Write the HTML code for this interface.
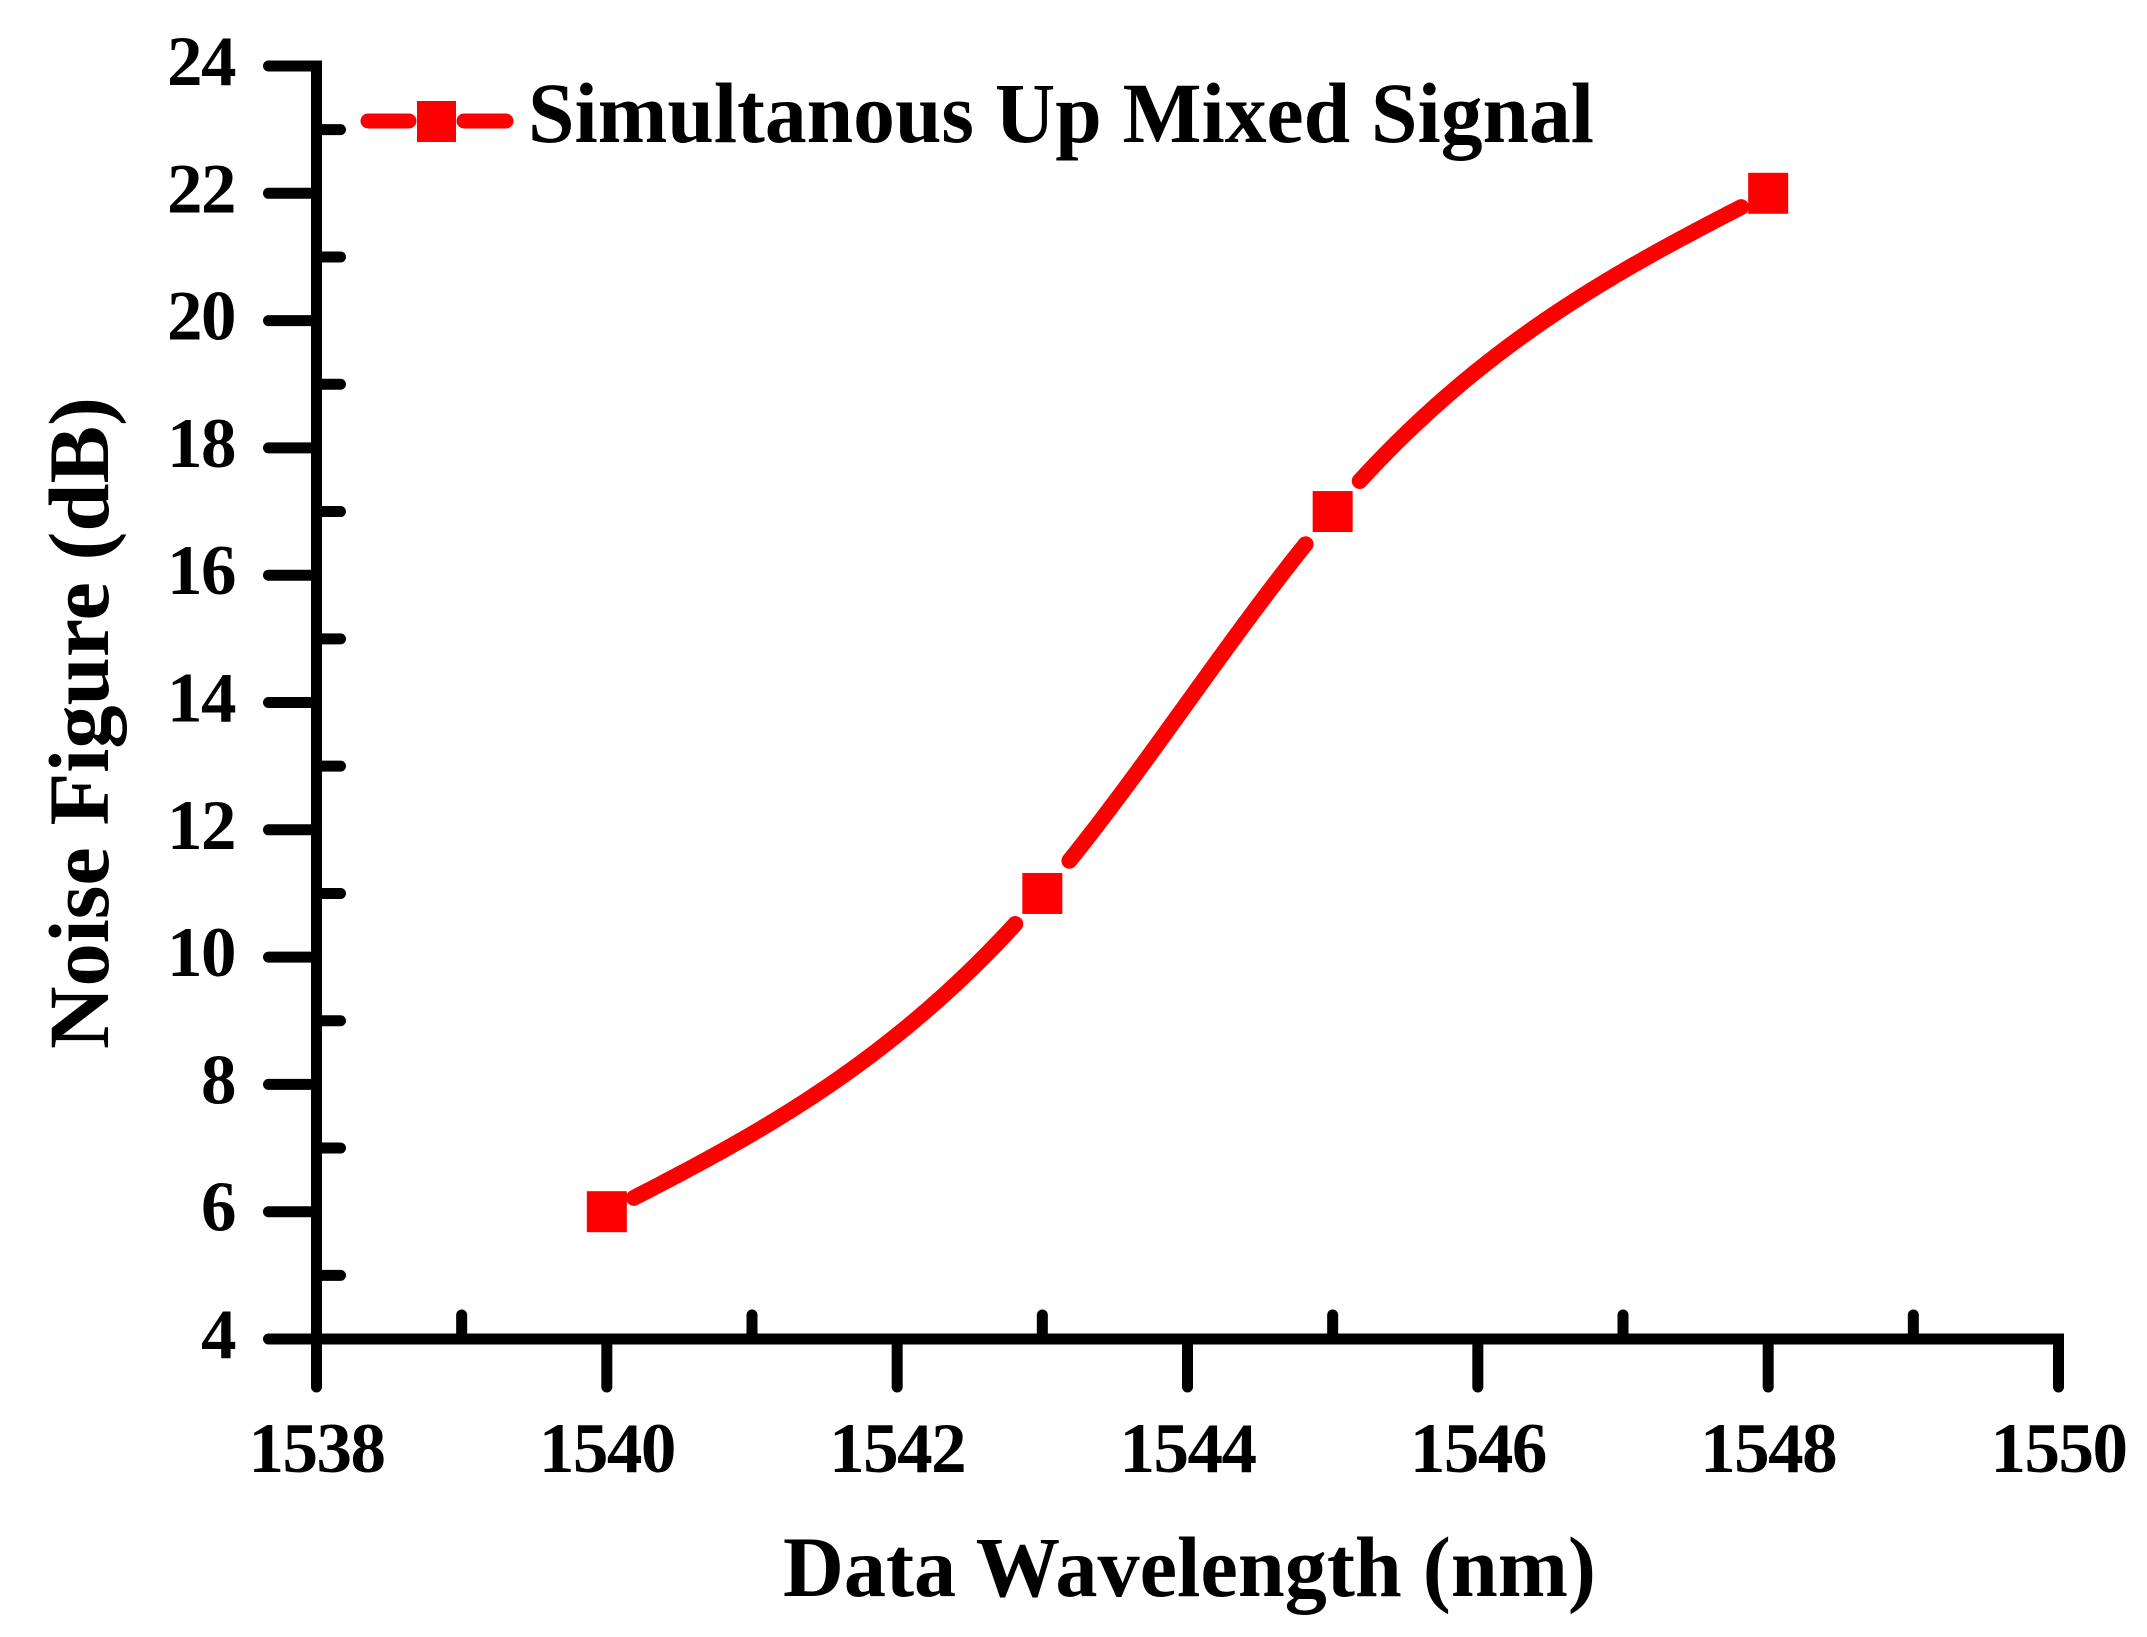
<!DOCTYPE html>
<html lang="en">
<head>
<meta charset="utf-8">
<title>Noise Figure vs Data Wavelength</title>
<style>
html,body{margin:0;padding:0;background:#fff;}
svg{display:block;}
text{font-family:"Liberation Serif","Times New Roman",serif;font-weight:bold;fill:#000;}
</style>
</head>
<body>
<svg id="chart" width="2147" height="1637" viewBox="0 0 2147 1637" xmlns="http://www.w3.org/2000/svg">
  <rect x="0" y="0" width="2147" height="1637" fill="#fff"/>
  <g id="axes"></g>
  <g id="series"></g>
  <g>
    <line x1="368" y1="121" x2="409" y2="121" stroke="#f00" stroke-width="15" stroke-linecap="round"/>
    <line x1="464" y1="121" x2="506" y2="121" stroke="#f00" stroke-width="15" stroke-linecap="round"/>
    <rect x="417" y="101" width="39" height="41" fill="#f00"/>
    <text x="528" y="142" font-size="86" textLength="1066" lengthAdjust="spacingAndGlyphs">Simultanous Up Mixed Signal</text>
  </g>
  <text x="783" y="1596" font-size="86" textLength="813" lengthAdjust="spacingAndGlyphs">Data Wavelength (nm)</text>
  <text transform="translate(108,1049) rotate(-90)" x="0" y="0" font-size="86" textLength="652" lengthAdjust="spacingAndGlyphs">Noise Figure (dB)</text>
</svg>
<script>
// Chart data
const wavelengths = [1540, 1543, 1545, 1548];
const noiseFigures = [6, 11, 17, 22];
const xTickLabels = [1538, 1540, 1542, 1544, 1546, 1548, 1550];
const yTickLabels = [4, 6, 8, 10, 12, 14, 16, 18, 20, 22, 24];

const SVG_NS = 'http://www.w3.org/2000/svg';
const axesGroup = document.getElementById('axes');
const seriesGroup = document.getElementById('series');

const xMin = 1538, xMax = 1550, yMin = 4, yMax = 24;
const plotLeft = 316.5, plotRight = 2058.5, plotTop = 66, plotBottom = 1339;

function xScale(v) { return plotLeft + (v - xMin) / (xMax - xMin) * (plotRight - plotLeft); }
function yScale(v) { return plotBottom - (v - yMin) / (yMax - yMin) * (plotBottom - plotTop); }

function make(tag, attrs) {
  const el = document.createElementNS(SVG_NS, tag);
  for (const k in attrs) el.setAttribute(k, attrs[k]);
  return el;
}

// Axis lines
const yAxisLine = make('path', { d: 'M' + plotLeft + ' ' + (plotTop - 5.5) + 'V1387', stroke: '#000', 'stroke-width': 11, fill: 'none', 'stroke-linecap': 'butt' });


axesGroup.appendChild(yAxisLine);

const xAxisLine = make('path', { d: 'M269 ' + plotBottom + 'H' + (plotRight + 5.5), stroke: '#000', 'stroke-width': 11, fill: 'none', 'stroke-linecap': 'butt' });


axesGroup.appendChild(xAxisLine);

// Y ticks and labels
yTickLabels.forEach(function (v, i) {
  const y = yScale(v);
  const major = make('line', { x1: 268.5, x2: plotLeft, y1: y, y2: y, stroke: '#000', 'stroke-width': 11, 'stroke-linecap': 'round' });
  
  
  axesGroup.appendChild(major);

  const label = make('text', { x: 235, y: y + 19, 'font-size': 71, 'text-anchor': 'end', 'letter-spacing': -1.5 });
  
  
  label.textContent = v;
  axesGroup.appendChild(label);

  if (i < yTickLabels.length - 1) {
    const ym = yScale((v + yTickLabels[i + 1]) / 2);
    const minor = make('line', { x1: plotLeft, x2: 340.5, y1: ym, y2: ym, stroke: '#000', 'stroke-width': 11, 'stroke-linecap': 'round' });
    
    
    axesGroup.appendChild(minor);
  }
});

// X ticks and labels
xTickLabels.forEach(function (v, i) {
  const x = xScale(v);
  const major = make('line', { x1: x, x2: x, y1: plotBottom, y2: 1387, stroke: '#000', 'stroke-width': 11, 'stroke-linecap': 'round' });
  
  
  axesGroup.appendChild(major);

  const label = make('text', { x: x, y: 1472, 'font-size': 71, 'text-anchor': 'middle', 'letter-spacing': -1.5 });
  
  
  label.textContent = v;
  axesGroup.appendChild(label);

  if (i < xTickLabels.length - 1) {
    const xm = xScale((v + xTickLabels[i + 1]) / 2);
    const minor = make('line', { x1: xm, x2: xm, y1: plotBottom, y2: 1315, stroke: '#000', 'stroke-width': 11, 'stroke-linecap': 'round' });
    
    
    axesGroup.appendChild(minor);
  }
});

// Natural cubic spline through the data points
function splineSecondDerivatives(xs, ys) {
  const n = xs.length;
  const m = new Array(n).fill(0);
  const u = new Array(n).fill(0);
  for (let i = 1; i < n - 1; i++) {
    const sig = (xs[i] - xs[i - 1]) / (xs[i + 1] - xs[i - 1]);
    const p = sig * m[i - 1] + 2;
    m[i] = (sig - 1) / p;
    const d = (ys[i + 1] - ys[i]) / (xs[i + 1] - xs[i]) - (ys[i] - ys[i - 1]) / (xs[i] - xs[i - 1]);
    u[i] = (6 * d / (xs[i + 1] - xs[i - 1]) - sig * u[i - 1]) / p;
  }
  for (let k = n - 2; k >= 0; k--) m[k] = m[k] * m[k + 1] + u[k];
  return m;
}

function splineAt(xs, ys, m, x) {
  let i = 0;
  while (i < xs.length - 2 && x > xs[i + 1]) i++;
  const h = xs[i + 1] - xs[i];
  const a = (xs[i + 1] - x) / h;
  const b = (x - xs[i]) / h;
  return a * ys[i] + b * ys[i + 1] + ((a * a * a - a) * m[i] + (b * b * b - b) * m[i + 1]) * h * h / 6;
}

// Curve, broken around each marker
const gapX = 26, gapY = 31;
const second = splineSecondDerivatives(wavelengths, noiseFigures);
const first = wavelengths[0], last = wavelengths[wavelengths.length - 1];
const markerCentres = wavelengths.map(function (w, i) { return [xScale(w), yScale(noiseFigures[i])]; });
let d = '';
let pen = false;
const samples = 600;
for (let s = 0; s <= samples; s++) {
  const w = first + (last - first) * s / samples;
  const px = xScale(w);
  const py = yScale(splineAt(wavelengths, noiseFigures, second, w));
  const hidden = markerCentres.some(function (c) { return Math.abs(px - c[0]) < gapX && Math.abs(py - c[1]) < gapY; });
  if (hidden) { pen = false; continue; }
  d += (pen ? 'L' : 'M') + px.toFixed(2) + ' ' + py.toFixed(2);
  pen = true;
}
const curve = make('path', { d: d, fill: 'none', stroke: '#f00', 'stroke-width': 16, 'stroke-linecap': 'round', 'stroke-linejoin': 'round' });


seriesGroup.appendChild(curve);

// Square markers
wavelengths.forEach(function (w, i) {
  const marker = make('rect', { x: xScale(w) - 20, y: yScale(noiseFigures[i]) - 20.5, width: 40, height: 41, fill: '#f00' });
  
  
  seriesGroup.appendChild(marker);
});
</script>
</body>
</html>
